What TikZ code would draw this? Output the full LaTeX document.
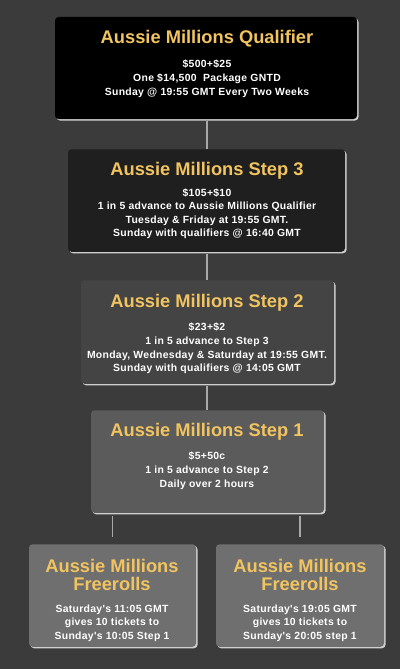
\documentclass[tikz,border=0pt]{standalone}
\usepackage{fontspec}
\setmainfont{Liberation Sans}
\newfontfamily\bodyfont[LetterSpace=3]{Liberation Sans}
\usetikzlibrary{shadows}
\definecolor{bg}{HTML}{3B3B3B}
\definecolor{edge}{HTML}{CFCFCF}
\definecolor{wire}{HTML}{A8A8A8}
\definecolor{gold}{HTML}{F2C460}
\definecolor{cA}{HTML}{000000}
\definecolor{cB}{HTML}{1F1F1F}
\definecolor{cC}{HTML}{444444}
\definecolor{cD}{HTML}{5B5B5B}
\definecolor{cE}{HTML}{6F6F6F}
\tikzset{
  box/.style={rectangle, rounded corners=3.5pt, inner sep=0pt,
    drop shadow={shadow xshift=1.5pt, shadow yshift=-1.5pt, fill=edge, opacity=1}},
  title/.style={text=gold, font=\fontsize{18.3}{18}\selectfont\bfseries, align=center, inner sep=0pt},
  body/.style={text=white, font=\fontsize{10.4}{13.9}\selectfont\bodyfont\bfseries, align=center, inner sep=0pt, anchor=north},
  wirel/.style={draw=wire, line width=1.6pt}
}
\begin{document}
\begin{tikzpicture}[x=1pt,y=-1pt]
\fill[bg] (0,0) rectangle (400,669);
\useasboundingbox (0,0) rectangle (400,669);
% boxes
\node[box, fill=cA, minimum width=302pt, minimum height=102pt] (q) at (206,68) {};
\node[box, fill=cB, minimum width=277pt, minimum height=102.5pt] (s3) at (206.5,200.5) {};
\node[box, fill=cC, minimum width=253pt, minimum height=103.5pt] (s2) at (207.5,332) {};
\node[box, fill=cD, minimum width=233pt, minimum height=102.5pt] (s1) at (207.5,461.5) {};
\node[box, fill=cE, minimum width=167pt, minimum height=102.5pt] (f1) at (112.5,595.5) {};
\node[box, fill=cE, minimum width=168pt, minimum height=102.5pt] (f2) at (300,595.5) {};
% connectors
\draw[wirel, shorten <=2pt] (q.south -| 207,0) -- (s3.north -| 207,0);
\draw[wirel, shorten <=2pt] (s3.south -| 207,0) -- (s2.north -| 207,0);
\draw[wirel, shorten <=2pt] (s2.south -| 207,0) -- (s1.north -| 207,0);
\draw[wirel, shorten <=3pt, shorten >=7pt] (f1.north |- s1.south) -- (f1.north);
\draw[wirel, shorten <=3pt, shorten >=7pt] (f2.north |- s1.south) -- (f2.north);
% texts
\node[title] (qt) at (207,39) {Aussie Millions Qualifier};
\node[body, font=\fontsize{10.4}{14.3}\selectfont\bodyfont\bfseries] (qb) at (207,59.3) {\$500+\$25\\One \$14,500\ \ Package GNTD\\Sunday @ 19:55 GMT Every Two Weeks};
\node[title] (s3t) at (207,171) {Aussie Millions Step 3};
\node[body, font=\fontsize{10.4}{13.4}\selectfont\bodyfont\bfseries] (s3b) at (207,188.5) {\$105+\$10\\1 in 5 advance to Aussie Millions Qualifier\\Tuesday \& Friday at 19:55 GMT.\\Sunday with qualifiers @ 16:40 GMT};
\node[title] (s2t) at (207,303) {Aussie Millions Step 2};
\node[body] (s2b) at (207,322.3) {\$23+\$2\\1 in 5 advance to Step 3\\Monday, Wednesday \& Saturday at 19:55 GMT.\\Sunday with qualifiers @ 14:05 GMT};
\node[title] (s1t) at (207,432) {Aussie Millions Step 1};
\node[body] (s1b) at (207,451.5) {\$5+50c\\1 in 5 advance to Step 2\\Daily over 2 hours};
\node[title] (f1t) at (112,575) {Aussie Millions\\Freerolls};
\node[body, font=\fontsize{10.4}{13.5}\selectfont\bodyfont\bfseries] (f1b) at (112,604.5) {Saturday's 11:05 GMT\\gives 10 tickets to\\Sunday's 10:05 Step 1};
\node[title] (f2t) at (300,575) {Aussie Millions\\Freerolls};
\node[body, font=\fontsize{10.4}{13.5}\selectfont\bodyfont\bfseries] (f2b) at (300,604.5) {Saturday's 19:05 GMT\\gives 10 tickets to\\Sunday's 20:05 step 1};
\end{tikzpicture}
\end{document}
